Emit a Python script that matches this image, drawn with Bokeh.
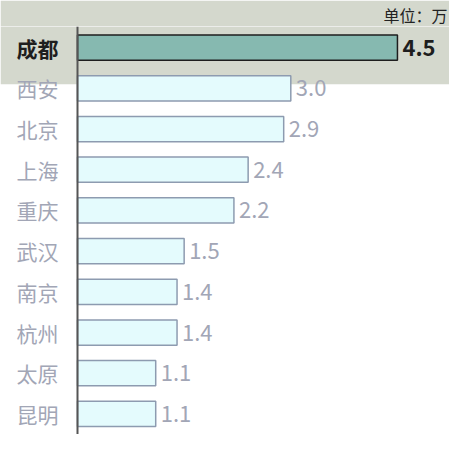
from bokeh.plotting import figure
from bokeh.models import ColumnDataSource, Range1d, Span, BoxAnnotation, Title
from bokeh.core.properties import value
from bokeh.embed import file_html
from bokeh.resources import INLINE

cities = ["成都", "西安", "北京", "上海", "重庆", "武汉", "南京", "杭州", "太原", "昆明"]
values = [4.5, 3.0, 2.9, 2.4, 2.2, 1.5, 1.4, 1.4, 1.1, 1.1]
unit_label = "单位：万"

n = len(cities)
idx = list(range(n))
hi = [i == 0 for i in idx]
src = ColumnDataSource(dict(
    y=idx, v=values, city=cities, vlab=[f"{x:.1f}" for x in values],
    fill=["#86b9b0" if h else "#e4fbfd" for h in hi],
    line=["#1e1e1e" if h else "#8d9bb0" for h in hi],
    tcol=["#1e1e1e" if h else "#a2a6b6" for h in hi],
    tstyle=["bold" if h else "normal" for h in hi],
    zero=[0] * n,
))

FONT = "Noto Sans CJK SC"
yr = Range1d(9.506, -0.519)
p = figure(width=449, height=434, output_backend="svg", toolbar_location=None,
           x_range=Range1d(-1.083, 5.232), y_range=yr,
           min_border=0, min_border_top=0)
p.title.visible = False
t = Title(text=unit_label, align="right", text_font=FONT, text_font_size="16px",
          text_color="#222222", text_font_style="normal", standoff=0, offset=2)
p.add_layout(t, "above")
p.axis.visible = False
p.grid.visible = False
p.outline_line_color = None
p.background_fill_color = "white"
p.border_fill_color = "#d4d8cd"

band = BoxAnnotation(top=yr.end, bottom=0.9, fill_color="#d4d8cd", fill_alpha=1.0,
                     line_color=None, level="underlay")
p.add_layout(band)

p.hbar(y="y", left="zero", right="v", height=0.62, source=src,
       fill_color="fill", line_color="line", line_width=1.5)

p.add_layout(Span(location=0, dimension="height", line_color="#555555", line_width=2))

p.text(x="zero", y="y", text="city", source=src, x_offset=-19, text_align="right",
       text_baseline="middle", text_font=value(FONT), text_font_size="21px",
       text_color="tcol", text_font_style="tstyle")
p.text(x="v", y="y", text="vlab", source=src, x_offset=5, text_align="left",
       text_baseline="middle", text_font=value(FONT), text_font_size="22px",
       text_color="tcol", text_font_style="tstyle")

open("out.html", "w").write(file_html(p, INLINE))
